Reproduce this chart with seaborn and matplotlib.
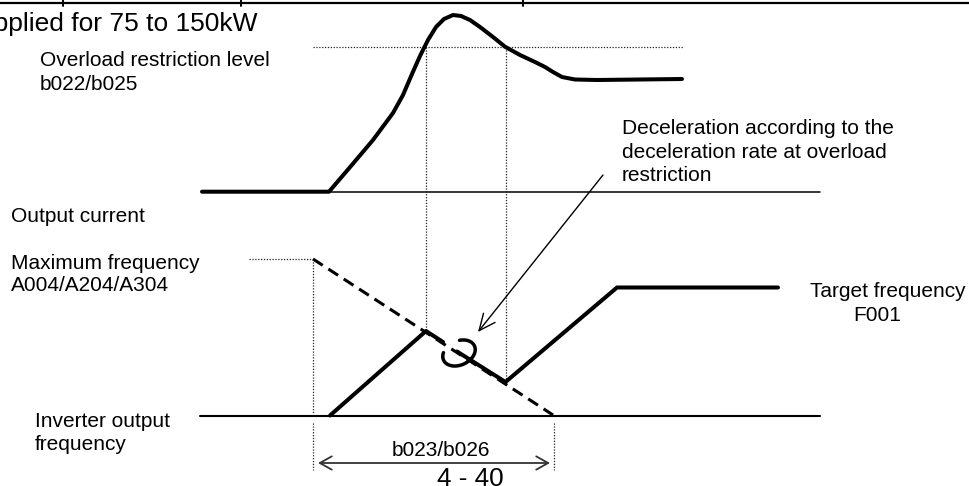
import numpy as np
import pandas as pd
import matplotlib
matplotlib.use("Agg")
import matplotlib.pyplot as plt
import seaborn as sns

# ---------------- data (pixel-space diagram coordinates) ----------------
current_x = [202, 329, 351, 373, 393, 403, 412, 420, 428, 436, 444, 453, 461, 470, 480, 493, 505, 520, 535, 545, 553, 562, 575, 597, 682]
current_y = [191.7, 191.7, 166, 140, 113, 95, 74, 56, 40, 27, 19, 15, 16, 20, 27, 37, 46.7, 55, 62, 67, 72, 77, 79.5, 80, 79]

freq1_x = [330, 426, 443]
freq1_y = [415.5, 331, 342]
freq2_x = [457, 505.5, 617, 778]
freq2_y = [351.5, 382, 287.5, 287.5]

maxline_x = [313, 553]
maxline_y = [259, 415]

overload_level_y = 47
overload_x = [313, 683]
current_base_y = 191.7
current_base_x = [329, 820]
freq_base_y = 415.5
freq_base_x = [200, 820]

labels = {
    "title": "Applied for 75 to 150kW",
    "overload": ["Overload restriction level", "b022/b025"],
    "current": ["Output current"],
    "maxf": ["Maximum frequency", "A004/A204/A304"],
    "inv": ["Inverter output", "frequency"],
    "decel": ["Deceleration according to the", "deceleration rate at overload", "restriction"],
    "target": ["Target frequency", "F001"],
    "time": "b023/b026",
    "page": "4 - 40",
}

# ---------------- style ----------------
sns.set_style("white")
plt.rcParams["font.family"] = ["Liberation Sans", "DejaVu Sans"]
plt.rcParams["text.color"] = "black"

fig = plt.figure(figsize=(9.69, 4.86), dpi=100)
ax = fig.add_axes([0, 0, 1, 1])

K = "black"
dot = dict(color="#222222", lw=0.9, linestyle=(0, (1, 1.3)))

# top border and table ticks
ax.plot([0, 969], [3.5, 3.5], color=K, lw=1.6)
for tx in [63, 241, 523]:
    ax.plot([tx, tx], [0, 6], color=K, lw=1.4)

# baselines
ax.plot(current_base_x, [current_base_y] * 2, color=K, lw=1.1)
ax.plot(freq_base_x, [freq_base_y] * 2, color=K, lw=1.5)

# dotted guides
ax.plot(overload_x, [overload_level_y] * 2, **dot)
ax.plot([426, 426], [overload_level_y, 331], **dot)
ax.plot([505.7, 505.7], [overload_level_y, 382], **dot)
ax.plot([249, 313], [259, 259], **dot)
ax.plot([313, 313], [259, 414], **dot)
ax.plot([313, 313], [423, 470], **dot)
ax.plot([554, 554], [423, 470], **dot)

# max-frequency dashed ramp
ax.plot(maxline_x, maxline_y, color=K, lw=2.2, linestyle=(0, (3.8, 2.2)))

# output current curve
df_c = pd.DataFrame({"x": current_x, "y": current_y})
sns.lineplot(data=df_c, x="x", y="y", ax=ax, color=K, lw=2.9, sort=False,
             estimator=None, legend=False)

# inverter output frequency
df_f1 = pd.DataFrame({"x": freq1_x, "y": freq1_y})
df_f2 = pd.DataFrame({"x": freq2_x, "y": freq2_y})
for d in (df_f1, df_f2):
    sns.lineplot(data=d, x="x", y="y", ax=ax, color=K, lw=2.9, sort=False,
                 estimator=None, legend=False)

# break loop symbol
t = np.radians(np.linspace(290, 575, 120))
cx, cy, a, b, phi = 459, 353, 17, 12, np.radians(-25)
ex = cx + a * np.cos(t) * np.cos(phi) - b * np.sin(t) * np.sin(phi)
ey = cy + a * np.cos(t) * np.sin(phi) + b * np.sin(t) * np.cos(phi)
ax.plot(ex, ey, color=K, lw=2.5, solid_capstyle="round")

# annotation arrow
ax.annotate("", xy=(478, 332), xytext=(603, 175),
            arrowprops=dict(arrowstyle="->,head_length=1.18,head_width=0.53",
                            mutation_scale=10, color=K, lw=1.0,
                            shrinkA=0, shrinkB=0))

# time span arrow
ax.annotate("", xy=(318, 463), xytext=(550, 463),
            arrowprops=dict(arrowstyle="<->,head_length=0.86,head_width=0.48",
                            mutation_scale=10, color="#333333", lw=1.3,
                            shrinkA=0, shrinkB=0))

ax.set_xlim(0, 969)
ax.set_ylim(486, 0)
ax.axis("off")

# ---------------- texts ----------------
FS = 15
ax.text(258, 31, labels["title"], fontsize=19, ha="right", va="baseline", color=K)
for s, y in zip(labels["overload"], [66, 90]):
    ax.text(40, y, s, fontsize=FS, va="baseline", color=K)
ax.text(11, 222, labels["current"][0], fontsize=FS, va="baseline", color=K)
for s, y in zip(labels["maxf"], [269, 291]):
    ax.text(11, y, s, fontsize=FS, va="baseline", color=K)
for s, y in zip(labels["inv"], [427, 450]):
    ax.text(35, y, s, fontsize=FS, va="baseline", color=K)
for s, y in zip(labels["decel"], [134, 158, 181]):
    ax.text(622, y, s, fontsize=FS, va="baseline", color=K)
ax.text(810, 297, labels["target"][0], fontsize=FS, va="baseline", color=K)
ax.text(853, 321, labels["target"][1], fontsize=FS, va="baseline", color=K)
ax.text(441, 456, labels["time"], fontsize=FS, ha="center", va="baseline", color=K)
ax.text(470.5, 485.5, labels["page"], fontsize=18.8, ha="center", va="baseline", color=K)

fig.savefig("out.png", dpi=100)
